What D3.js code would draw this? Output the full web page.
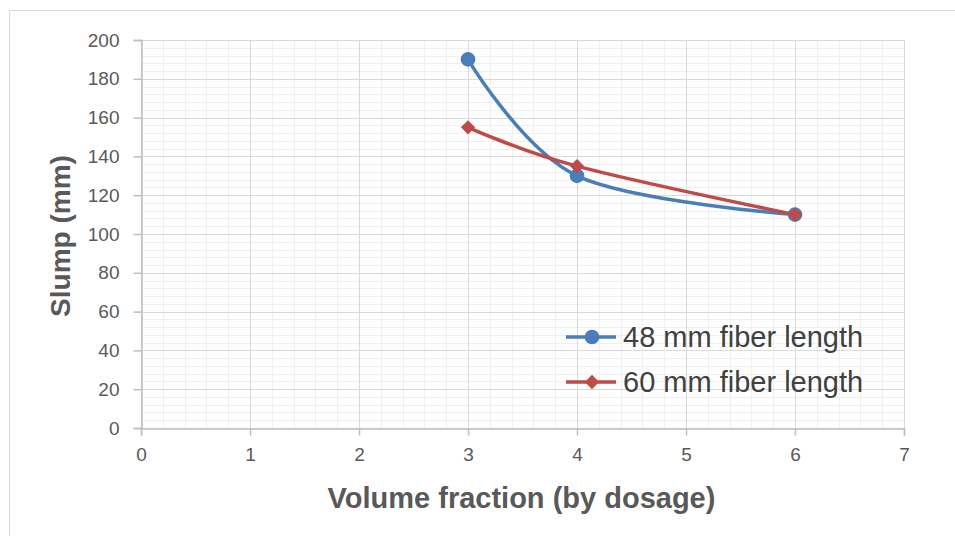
<!DOCTYPE html>
<html>
<head>
<meta charset="utf-8">
<script src="https://cdn.jsdelivr.net/npm/d3@7"></script>
<style>
  body { margin: 0; background: #fff; }
  svg text { font-family: "Liberation Sans", Arial, sans-serif; }
</style>
</head>
<body>
<div id="chart"></div>
<script>
// data
var xValues = [3, 4, 6];
var fiber48 = [190, 130, 110];
var fiber60 = [155, 135, 110];
var seriesNames = ["48 mm fiber length", "60 mm fiber length"];
var xTicks = [0, 1, 2, 3, 4, 5, 6, 7];
var yTicks = [0, 20, 40, 60, 80, 100, 120, 140, 160, 180, 200];

var W = 955, H = 536;
var margin = { top: 40, right: 51, bottom: 108, left: 141 };
var width = W - margin.left - margin.right;
var height = H - margin.top - margin.bottom;

var svg = d3.select("#chart").append("svg")
  .attr("width", W).attr("height", H);

// chart frame
svg.append("rect")
  .attr("x", 9.5).attr("y", 10.5)
  .attr("width", W).attr("height", H)
  .attr("fill", "none").attr("stroke", "#d9d9d9");

var g = svg.append("g").attr("transform", "translate(" + margin.left + "," + margin.top + ")");

var x = d3.scaleLinear().domain([0, 7]).range([0, width]);
var y = d3.scaleLinear().domain([0, 200]).range([height, 0]);

// minor grid
var minorX = d3.range(0, 7.001, 0.2);
var minorY = d3.range(0, 200.001, 4);
g.selectAll(".mx").data(minorX).enter().append("line")
  .attr("x1", function (d) { return Math.round(x(d)) + 0.5; })
  .attr("x2", function (d) { return Math.round(x(d)) + 0.5; })
  .attr("y1", 0).attr("y2", height)
  .attr("stroke", "#f0f0f0");
g.selectAll(".my").data(minorY).enter().append("line")
  .attr("y1", function (d) { return Math.round(y(d)) + 0.5; })
  .attr("y2", function (d) { return Math.round(y(d)) + 0.5; })
  .attr("x1", 0).attr("x2", width)
  .attr("stroke", "#f0f0f0");

// major grid
g.selectAll(".gx").data(xTicks).enter().append("line")
  .attr("x1", function (d) { return Math.round(x(d)) + 0.5; })
  .attr("x2", function (d) { return Math.round(x(d)) + 0.5; })
  .attr("y1", 0).attr("y2", height)
  .attr("stroke", "#d9d9d9");
g.selectAll(".gy").data(yTicks).enter().append("line")
  .attr("y1", function (d) { return Math.round(y(d)) + 0.5; })
  .attr("y2", function (d) { return Math.round(y(d)) + 0.5; })
  .attr("x1", 0).attr("x2", width)
  .attr("stroke", "#d9d9d9");

// axes
var xAxis = g.append("g")
  .attr("transform", "translate(0," + (Math.round(height) + 0.5) + ")")
  .call(d3.axisBottom(x).tickValues(xTicks).tickSize(7).tickPadding(12).tickFormat(d3.format("d")));
var yAxis = g.append("g")
  .attr("transform", "translate(0.5,0)")
  .call(d3.axisLeft(y).tickValues(yTicks).tickSize(8).tickPadding(14).tickFormat(d3.format("d")));

[xAxis, yAxis].forEach(function (ax) {
  ax.select(".domain").attr("stroke", "#bfbfbf").attr("stroke-width", 1.5);
  ax.selectAll(".tick line").attr("stroke", "#bfbfbf").attr("stroke-width", 1.5);
  ax.selectAll(".tick text").attr("fill", "#595959").style("font-size", "19px");
});

// series
var series = [
  { name: seriesNames[0], values: fiber48, color: "#4a7ebb", symbol: d3.symbolCircle, size: 170 },
  { name: seriesNames[1], values: fiber60, color: "#be4b48", symbol: d3.symbolDiamond2, size: 130 }
];

var line = d3.line()
  .x(function (d) { return x(d[0]); })
  .y(function (d) { return y(d[1]); })
  .curve(d3.curveCatmullRom.alpha(0));

series.forEach(function (s) {
  var pts = xValues.map(function (v, i) { return [v, s.values[i]]; });
  g.append("path").datum(pts)
    .attr("fill", "none").attr("stroke", s.color)
    .attr("stroke-width", 3.5).attr("stroke-linecap", "round")
    .attr("d", line);
  g.selectAll(null).data(pts).enter().append("path")
    .attr("transform", function (d) { return "translate(" + x(d[0]) + "," + y(d[1]) + ")"; })
    .attr("d", d3.symbol().type(s.symbol).size(s.size))
    .attr("fill", s.color);
});

// legend
var legend = svg.append("g").attr("transform", "translate(566,337)");
series.forEach(function (s, i) {
  var lg = legend.append("g").attr("transform", "translate(0," + (i * 45) + ")");
  lg.append("line").attr("x1", 0).attr("x2", 50).attr("y1", 0).attr("y2", 0)
    .attr("stroke", s.color).attr("stroke-width", 3.5);
  lg.append("path").attr("transform", "translate(26,0)")
    .attr("d", d3.symbol().type(s.symbol).size(s.size))
    .attr("fill", s.color);
  lg.append("text").attr("x", 57).attr("y", 0).attr("dy", "0.35em")
    .attr("fill", "#404040").style("font-size", "29px")
    .text(s.name);
});

// axis titles
svg.append("text")
  .attr("x", margin.left + width / 2 - 1).attr("y", 508)
  .attr("text-anchor", "middle").attr("fill", "#595959")
  .style("font-size", "29px").style("font-weight", "bold")
  .text("Volume fraction (by dosage)");
svg.append("text")
  .attr("transform", "translate(70," + 236 + ") rotate(-90)")
  .attr("text-anchor", "middle").attr("fill", "#595959")
  .style("font-size", "28px").style("font-weight", "bold")
  .text("Slump (mm)");
</script>
</body>
</html>
